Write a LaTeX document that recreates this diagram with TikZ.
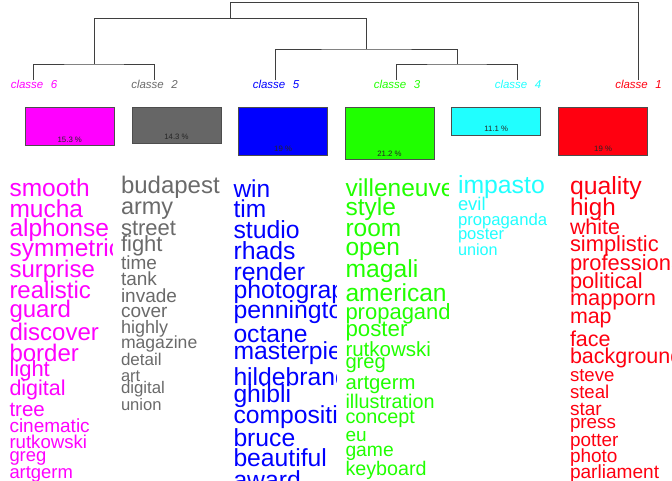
\documentclass[tikz,border=0pt]{standalone}
\usepackage{fontspec}
\setmainfont{Liberation Sans}
\definecolor{cmag}{HTML}{FF00FF}
\definecolor{cgray}{HTML}{6A6A6A}
\definecolor{cboxgray}{HTML}{666666}
\definecolor{cblue}{HTML}{0000FF}
\definecolor{cgreen}{HTML}{20FF00}
\definecolor{ccyan}{HTML}{20FFFF}
\definecolor{cred}{HTML}{FF0010}
\definecolor{cline}{HTML}{3F3F3F}
\definecolor{cborder}{HTML}{4D4D4D}
\tikzset{
  wordtxt/.style={anchor=base west, inner sep=0pt, outer sep=0pt},
  lbl/.style={anchor=base, inner sep=0pt, font=\fontsize{11.5}{11.5}\selectfont\itshape},
  cbox/.style={anchor=north west, draw=cborder, line width=0.6pt, minimum width=89pt, inner sep=0pt},
  pct/.style={anchor=base, inner sep=0pt, text=black!85, font=\fontsize{7.8}{7.8}\selectfont},
  dend/.style={draw=cline, line width=0.8pt}
}
\begin{document}
\begin{tikzpicture}[x=1pt,y=-1pt]
\useasboundingbox (0,0) rectangle (672,480);
% dendrogram
\coordinate (L6) at (33.4,80);
\coordinate (L2) at (154.3,80);
\coordinate (L5) at (275,80);
\coordinate (L3) at (396,80);
\coordinate (L4) at (517.8,80);
\coordinate (L1) at (638.6,80);
\coordinate (J62) at (94.3,64);
\coordinate (J34) at (457,64);
\coordinate (J534) at (366.5,49);
\coordinate (JA) at (230.6,18.3);
\coordinate (T) at (230.6,2.7);
\draw[dend] (L6) |- (J62) -| (L2);
\draw[dend] (L3) |- (J34) -| (L4);
\draw[dend] (L5) |- (J534) -| (J34);
\draw[dend] (J62) |- (JA) -| (J534);
\draw[dend] (JA) -- (T) -| (L1);
% class labels
\node[lbl, text=cmag]  (l6) at (34,88.3)  {classe\hspace{7.5pt}6};
\node[lbl, text=cgray] (l2) at (154.5,88.3) {classe\hspace{7.5pt}2};
\node[lbl, text=cblue] (l5) at (276,88.3) {classe\hspace{7.5pt}5};
\node[lbl, text=cgreen] (l3) at (397,88.3) {classe\hspace{7.5pt}3};
\node[lbl, text=ccyan] (l4) at (518,88.3) {classe\hspace{7.5pt}4};
\node[lbl, text=cred]  (l1) at (638.5,88.3) {classe\hspace{7.5pt}1};
% boxes
\node[cbox, fill=cmag, minimum height=38pt] (b6) at (25,107.3) {};
\node[cbox, fill=cboxgray, minimum height=35.4pt] (b2) at (131.7,107.3) {};
\node[cbox, fill=cblue, minimum height=47.4pt] (b5) at (238.3,107.3) {};
\node[cbox, fill=cgreen, minimum height=52pt] (b3) at (344.7,107.3) {};
\node[cbox, fill=ccyan, minimum height=27.4pt] (b4) at (451.3,107.3) {};
\node[cbox, fill=cred, minimum height=47.4pt] (b1) at (558.3,107.3) {};
\node[pct] (p6) at ([yshift=3.8pt]b6.south) {15.3 \%};
\node[pct] (p2) at ([yshift=4pt]b2.south) {14.3 \%};
\node[pct] (p5) at ([yshift=3.6pt]b5.south) {19 \%};
\node[pct] (p3) at ([yshift=3.5pt]b3.south) {21.2 \%};
\node[pct] (p4) at ([yshift=3.9pt]b4.south) {11.1 \%};
\node[pct] (p1) at ([yshift=3.6pt]b1.south) {19 \%};
% word columns
\begin{scope}
\clip (0,165) rectangle (112,480);
\foreach \w/\s/\yy [count=\i] in {smooth/24.5/196.7, mucha/24.5/217.3, alphonse/24.5/236.7, symmetric/24.5/256, surprise/24/277.3, realistic/24/298.3, guard/24/317.7, discover/24/340, border/24/361, light/22/376.7, digital/21.5/395, tree/20.5/416.7, cinematic/19/432.7, rutkowski/18.6/448.3, greg/18.4/461.7, artgerm/18.4/478.3}
  \node[wordtxt, text=cmag, font=\fontsize{\s}{\s}\selectfont] (m\i) at (9.5,\yy) {\w};
\end{scope}
\begin{scope}
\clip (112,165) rectangle (224,480);
\foreach \w/\s/\yy [count=\i] in {budapest/24/193.3, army/23.5/214, street/22/235, fight/22/251, time/19/269, tank/19/285.7, invade/19/302.3, cover/19/317.7, highly/18/333.3, magazine/17.6/348.3, detail/17/365.7, art/16.5/381, digital/16.8/393.3, union/16.6/410}
  \node[wordtxt, text=cgray, font=\fontsize{\s}{\s}\selectfont] (g\i) at (121,\yy) {\w};
\end{scope}
\begin{scope}
\clip (224,165) rectangle (336,480);
\foreach \w/\s/\yy [count=\i] in {win/24.5/197.7, tim/24.5/217.3, studio/24.8/238.3, rhads/24.8/259.3, render/24.8/280, photographic/24.8/298.3, pennington/24.8/318.3, octane/24.7/342.3, masterpiece/24.7/359.3, hildebrandt/24.7/385, ghibli/24.7/402.3, composition/24.7/423.3, bruce/24.7/446.7, beautiful/24.7/466.7, award/24.7/488}
  \node[wordtxt, text=cblue, font=\fontsize{\s}{\s}\selectfont] (u\i) at (233.5,\yy) {\w};
\end{scope}
\begin{scope}
\clip (336,165) rectangle (448,480);
\foreach \w/\s/\yy [count=\i] in {villeneuve/24.5/196.7, style/24.5/215.3, room/24.5/236.7, open/24.5/255, magali/24.7/277.7, american/24.6/301.7, propaganda/22/319, poster/22.3/336.7, rutkowski/20.5/356.7, greg/20.2/368.3, artgerm/20.3/389, illustration/19.8/408.3, concept/19.8/423.3, eu/19/441.7, game/19.3/456.7, keyboard/19.7/475.7}
  \node[wordtxt, text=cgreen, font=\fontsize{\s}{\s}\selectfont] (v\i) at (345.5,\yy) {\w};
\end{scope}
\begin{scope}
\clip (448,165) rectangle (560,480);
\foreach \w/\s/\yy [count=\i] in {impasto/24.8/193.3, evil/18.4/210.7, propaganda/16.7/225, poster/16.6/239, union/16.2/255.7}
  \node[wordtxt, text=ccyan, font=\fontsize{\s}{\s}\selectfont] (c\i) at (458,\yy) {\w};
\end{scope}
\begin{scope}
\clip (560,165) rectangle (672,480);
\foreach \w/\s/\yy [count=\i] in {quality/24.8/194.3, high/24.2/215, white/21.4/234, simplistic/21.9/251.7, professional/21.9/270.8, political/21.8/288.8, mapporn/21.8/305.8, map/21.4/323.5, face/21.5/346.3, background/21.5/363, steve/18.6/381, steal/18.6/398.3, star/19/415, press/18.8/428.3, potter/18.9/446, photo/19/462.7, parliament/19.1/478.3}
  \node[wordtxt, text=cred, font=\fontsize{\s}{\s}\selectfont] (r\i) at (570,\yy) {\w};
\end{scope}
\end{tikzpicture}
\end{document}
